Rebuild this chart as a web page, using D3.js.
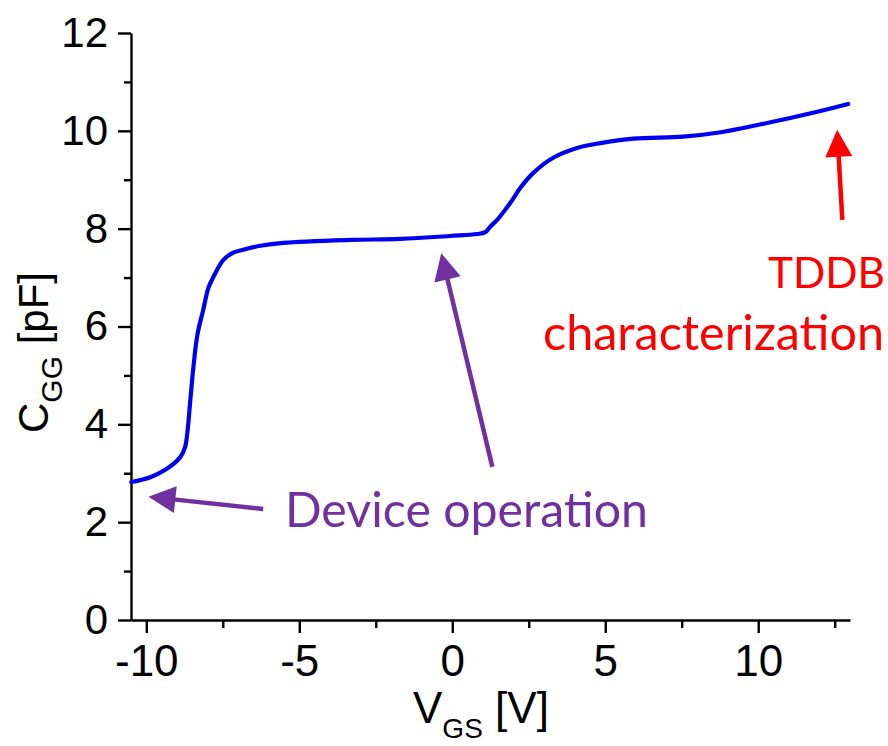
<!DOCTYPE html>
<html>
<head>
<meta charset="utf-8">
<script src="https://cdn.jsdelivr.net/npm/d3@7"></script>
<style>
  html, body { margin: 0; padding: 0; background: #ffffff; }
  svg { display: block; }
</style>
</head>
<body>
<svg id="chart" width="888" height="746"></svg>
<script>
// Gate capacitance C_GG versus gate-source voltage V_GS
const vgs = [-10.49, -9.87, -9.38, -8.89, -8.73, -8.66, -8.56, -8.46, -8.33, -8.14,
             -7.97, -7.81, -7.48, -7.16, -6.83, -6.27, -5.52, -3.33, -1.70, -0.07,
             0.82, 1.08, 1.24, 1.47, 1.90, 2.22, 2.65, 3.30, 4.08, 4.84,
             5.92, 7.55, 8.66, 10.29, 11.93, 12.94];
const cgg = [2.82, 2.92, 3.07, 3.33, 3.54, 3.82, 4.50, 5.17, 5.83, 6.34,
             6.79, 7.01, 7.36, 7.51, 7.57, 7.65, 7.71, 7.77, 7.79, 7.85,
             7.89, 7.93, 8.04, 8.18, 8.53, 8.83, 9.14, 9.45, 9.65, 9.75,
             9.84, 9.88, 9.96, 10.16, 10.39, 10.55];

const xMajorTicks = [-10, -5, 0, 5, 10];
const xMinorTicks = [-7.5, -2.5, 2.5, 7.5, 12.5];
const yMajorTicks = [0, 2, 4, 6, 8, 10, 12];
const yMinorTicks = [1, 3, 5, 7, 9, 11];

// Annotation arrows, in data units: [tailX, tailY, tipX, tipY]
const arrowDevice = [-6.18, 2.27, -9.93, 2.52];
const arrowPlateau = [1.31, 3.13, -0.36, 7.50];
const arrowTddb = [12.75, 8.18, 12.58, 10.02];

const svg = d3.select("#chart");
const axisFont = "'Liberation Sans', Arial, sans-serif";
const noteFont = "Lato, 'Open Sans', sans-serif";

const x = d3.scaleLinear().domain([-10.5, 13]).range([131, 850]);
const y = d3.scaleLinear().domain([0, 12]).range([620, 33]);

// Axes: major ticks with labels, minor ticks without
function styleAxis(g) {
  g.selectAll("path.domain").attr("stroke", "#000").attr("stroke-width", 2.4);
  g.selectAll(".tick line").attr("stroke", "#000").attr("stroke-width", 2.4);
}

const gx = svg.append("g").attr("transform", `translate(0,${y(0)})`)
  .call(d3.axisBottom(x).tickValues(xMajorTicks).tickSize(13).tickSizeOuter(0).tickPadding(12)
    .tickFormat(d => d3.format("d")(d).replace("−", "-")));
gx.call(styleAxis);
gx.selectAll("text").attr("font-family", axisFont).attr("font-size", 44).attr("fill", "#000");

const gxm = svg.append("g").attr("transform", `translate(0,${y(0)})`)
  .call(d3.axisBottom(x).tickValues(xMinorTicks).tickSize(8).tickSizeOuter(0).tickFormat(""));
gxm.call(styleAxis);
gxm.select("path.domain").remove();

const gy = svg.append("g").attr("transform", `translate(${x(-10.5)},0)`)
  .call(d3.axisLeft(y).tickValues(yMajorTicks).tickSize(13).tickSizeOuter(0).tickPadding(10));
gy.call(styleAxis);
gy.selectAll("text").attr("font-family", axisFont).attr("font-size", 42).attr("fill", "#000");

const gym = svg.append("g").attr("transform", `translate(${x(-10.5)},0)`)
  .call(d3.axisLeft(y).tickValues(yMinorTicks).tickSize(7).tickSizeOuter(0).tickFormat(""));
gym.call(styleAxis);
gym.select("path.domain").remove();

// Axis titles with subscripts
const xt = svg.append("text")
  .attr("x", 413).attr("y", 723)
  .attr("font-family", axisFont).attr("font-size", 44).attr("fill", "#000");
xt.append("tspan").text("V");
xt.append("tspan").attr("font-size", 28).attr("dy", 15).text("GS");
xt.append("tspan").attr("dy", -15).text(" [V]");

const yt = svg.append("text")
  .attr("transform", "translate(48,433) rotate(-90)")
  .attr("font-family", axisFont).attr("font-size", 42).attr("fill", "#000");
yt.append("tspan").text("C");
yt.append("tspan").attr("font-size", 30).attr("dy", 14).text("GG");
yt.append("tspan").attr("dy", -14).text(" [pF]");

// Measured curve
const line = d3.line()
  .x((d, i) => x(vgs[i]))
  .y((d, i) => y(cgg[i]))
  .curve(d3.curveCatmullRom.alpha(0.5));

svg.append("path")
  .datum(cgg)
  .attr("d", line)
  .attr("fill", "none")
  .attr("stroke", "#0000f0")
  .attr("stroke-width", 4.2)
  .attr("stroke-linejoin", "round")
  .attr("stroke-linecap", "round");

// Annotation arrows
function drawArrow(a, color) {
  const x0 = x(a[0]), y0 = y(a[1]), x1 = x(a[2]), y1 = y(a[3]);
  const ang = Math.atan2(y1 - y0, x1 - x0);
  const headLen = 27, headHalf = 13.5;
  const bx = x1 - headLen * Math.cos(ang), by = y1 - headLen * Math.sin(ang);
  svg.append("line")
    .attr("x1", x0).attr("y1", y0).attr("x2", bx + 2 * Math.cos(ang)).attr("y2", by + 2 * Math.sin(ang))
    .attr("stroke", color).attr("stroke-width", 4.5);
  const nx = -Math.sin(ang), ny = Math.cos(ang);
  svg.append("path")
    .attr("d", `M${x1},${y1}L${bx + nx * headHalf},${by + ny * headHalf}L${bx - nx * headHalf},${by - ny * headHalf}Z`)
    .attr("fill", color);
}
drawArrow(arrowDevice, "#7030a0");
drawArrow(arrowPlateau, "#7030a0");
drawArrow(arrowTddb, "#ff0000");

// Annotation labels, sized to span their measured widths
function fitText(t, width) {
  const w = t.node().getComputedTextLength();
  const fs = parseFloat(t.attr("font-size"));
  t.attr("font-size", fs * width / w);
}
const dev = svg.append("text").attr("x", 285).attr("y", 527)
  .attr("font-family", noteFont).attr("font-size", 44).attr("fill", "#7030a0")
  .text("Device operation");
fitText(dev, 363);

const t1 = svg.append("text").attr("x", 885).attr("y", 288).attr("text-anchor", "end")
  .attr("font-family", noteFont).attr("font-size", 44).attr("fill", "#ff0000")
  .text("TDDB");
fitText(t1, 117);
const t2 = svg.append("text").attr("x", 884).attr("y", 350).attr("text-anchor", "end")
  .attr("font-family", noteFont).attr("font-size", 44).attr("fill", "#ff0000")
  .text("characterization");
fitText(t2, 341);
</script>
</body>
</html>
